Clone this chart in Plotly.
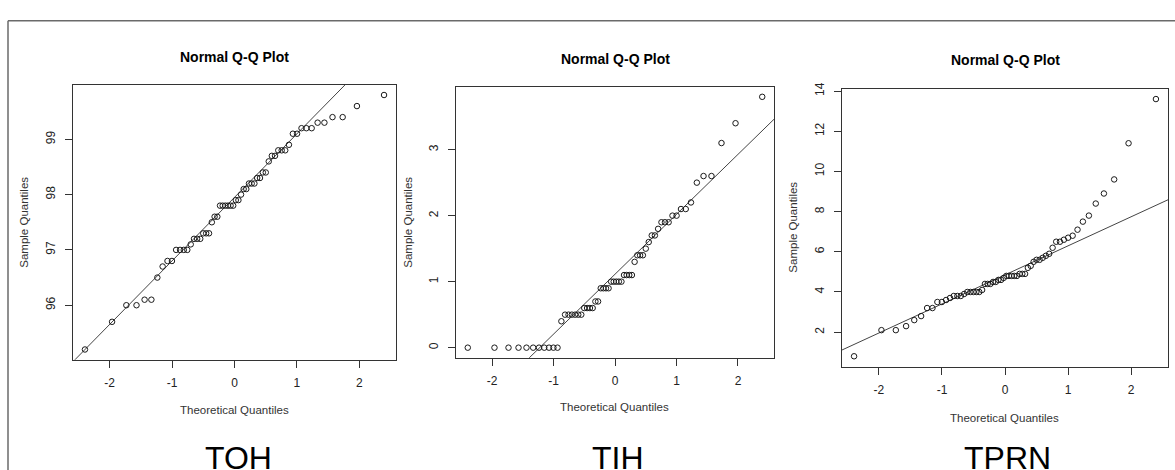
import numpy as np
import plotly.graph_objects as go
from statistics import NormalDist

W, H = 1175, 470

panel_names = ["TOH", "TIH", "TPRN"]
plot_title = "Normal Q-Q Plot"
x_label = "Theoretical Quantiles"
y_label = "Sample Quantiles"

toh = [95.2, 95.7, 96.0, 96.0, 96.1, 96.1, 96.5, 96.7, 96.8, 96.8,
       97.0, 97.0, 97.0, 97.0, 97.1, 97.2, 97.2, 97.2, 97.3, 97.3,
       97.3, 97.5, 97.6, 97.6, 97.8, 97.8, 97.8, 97.8, 97.8, 97.8,
       97.9, 97.9, 98.0, 98.1, 98.1, 98.2, 98.2, 98.2, 98.3, 98.3,
       98.4, 98.4, 98.6, 98.7, 98.7, 98.8, 98.8, 98.8, 98.9, 99.1,
       99.1, 99.2, 99.2, 99.2, 99.3, 99.3, 99.4, 99.4, 99.6, 99.8]

tih = [0.0, 0.0, 0.0, 0.0, 0.0, 0.0, 0.0, 0.0, 0.0, 0.0,
       0.0, 0.4, 0.5, 0.5, 0.5, 0.5, 0.5, 0.5, 0.6, 0.6,
       0.6, 0.6, 0.7, 0.7, 0.9, 0.9, 0.9, 0.9, 1.0, 1.0,
       1.0, 1.0, 1.0, 1.1, 1.1, 1.1, 1.1, 1.3, 1.4, 1.4,
       1.4, 1.5, 1.6, 1.7, 1.7, 1.8, 1.9, 1.9, 1.9, 2.0,
       2.0, 2.1, 2.1, 2.2, 2.5, 2.6, 2.6, 3.1, 3.4, 3.8]

tprn = [0.8, 2.1, 2.1, 2.3, 2.6, 2.8, 3.2, 3.2, 3.5, 3.5,
        3.6, 3.7, 3.8, 3.8, 3.8, 3.9, 4.0, 4.0, 4.0, 4.0,
        4.0, 4.1, 4.4, 4.4, 4.4, 4.5, 4.5, 4.6, 4.6, 4.7,
        4.8, 4.8, 4.8, 4.8, 4.8, 4.9, 4.9, 4.9, 5.2, 5.3,
        5.5, 5.6, 5.6, 5.7, 5.8, 5.9, 6.2, 6.5, 6.5, 6.6,
        6.7, 6.8, 7.1, 7.5, 7.8, 8.4, 8.9, 9.6, 11.4, 13.6]

series = [toh, tih, tprn]
x_ticks = [-2, -1, 0, 1, 2]
x_tick_text = ["-2", "-1", "0", "1", "2"]
y_ticks = [[96, 97, 98, 99], [0, 1, 2, 3], [2, 4, 6, 8, 10, 12, 14]]

# pixel layout of each panel: plot box (left, top, right, bottom)
boxes = [(73, 79, 396, 358), (456, 81, 774, 356), (842, 83, 1168, 365)]
title_pos = [(234, 51), (615, 53), (1005, 54)]
xlab_pos = [(234, 409), (614, 406), (1004, 417)]
ylab_pos = [(24, 219), (408, 219), (793, 224)]
name_pos = [(238, 458), (618, 458), (1007, 458)]

nd = NormalDist()


def ppoints(n):
    a = 3.0 / 8 if n <= 10 else 0.5
    return [(i + 1 - a) / (n + 1 - 2 * a) for i in range(n)]


def px(x):
    return x / W


def py(y):
    return 1 - y / H


FONT = "Liberation Sans, Arial"
fig = go.Figure()
annotations = []
for k, data in enumerate(series):
    y = np.sort(np.array(data, dtype=float))
    n = len(y)
    theo = np.array([nd.inv_cdf(p) for p in ppoints(n)])
    # qqline through the quartiles
    q1, q3 = np.quantile(y, [0.25, 0.75])
    z1, z3 = nd.inv_cdf(0.25), nd.inv_cdf(0.75)
    slope = (q3 - q1) / (z3 - z1)
    inter = q1 - slope * z1
    lx = np.array([-4.0, 4.0])
    xr = [theo.min() - 0.04 * (theo.max() - theo.min()), theo.max() + 0.04 * (theo.max() - theo.min())]
    yr = [y.min() - 0.04 * (y.max() - y.min()), y.max() + 0.04 * (y.max() - y.min())]
    xa = "x" if k == 0 else f"x{k+1}"
    ya = "y" if k == 0 else f"y{k+1}"
    fig.add_trace(go.Scatter(x=lx, y=inter + slope * lx, mode="lines",
                             line=dict(color="#444444", width=1),
                             xaxis=xa, yaxis=ya, showlegend=False, hoverinfo="skip"))
    fig.add_trace(go.Scatter(x=theo, y=y, mode="markers",
                             marker=dict(symbol="circle-open", size=5.5,
                                         color="#1a1a1a", line=dict(width=1)),
                             xaxis=xa, yaxis=ya, showlegend=False))
    l, t, r, b = boxes[k]
    axis_common = dict(showline=True, mirror=True, linecolor="#333333", linewidth=1,
                       ticks="outside", ticklen=7, tickcolor="#333333", tickwidth=1,
                       showgrid=False, zeroline=False,
                       tickfont=dict(family=FONT, size=12, color="#222222"))
    fig.update_layout(**{
        ("xaxis" if k == 0 else f"xaxis{k+1}"): dict(
            domain=[px(l), px(r)], range=xr, tickvals=x_ticks, ticktext=x_tick_text,
            anchor=ya, ticklabelstandoff=5, **axis_common),
        ("yaxis" if k == 0 else f"yaxis{k+1}"): dict(
            domain=[py(b), py(t)], range=yr, tickvals=y_ticks[k],
            ticktext=[str(v) for v in y_ticks[k]], tickangle=-90,
            anchor=xa, ticklabelstandoff=5, **axis_common),
    })
    tx, ty = title_pos[k]
    annotations.append(dict(text="<b>" + plot_title + "</b>", x=px(tx), y=py(ty),
                            xref="paper", yref="paper", showarrow=False,
                            xanchor="center", yanchor="middle",
                            font=dict(family=FONT, size=14, color="#000000")))
    tx, ty = xlab_pos[k]
    annotations.append(dict(text=x_label, x=px(tx), y=py(ty), xref="paper", yref="paper",
                            showarrow=False, xanchor="center", yanchor="middle",
                            font=dict(family=FONT, size=11.5, color="#333333")))
    tx, ty = ylab_pos[k]
    annotations.append(dict(text=y_label, x=px(tx), y=py(ty), xref="paper", yref="paper",
                            showarrow=False, xanchor="center", yanchor="middle", textangle=-90,
                            font=dict(family=FONT, size=11.5, color="#333333")))
    tx, ty = name_pos[k]
    annotations.append(dict(text=panel_names[k], x=px(tx), y=py(ty), xref="paper", yref="paper",
                            showarrow=False, xanchor="center", yanchor="middle",
                            font=dict(family=FONT, size=32, color="#000000")))

shapes = [
    dict(type="line", xref="paper", yref="paper", x0=px(8), x1=1.0, y0=py(14), y1=py(14),
         line=dict(color="#6a6a6a", width=1.5)),
    dict(type="line", xref="paper", yref="paper", x0=px(8), x1=px(8), y0=0.0, y1=py(14),
         line=dict(color="#6a6a6a", width=1.5)),
]

fig.update_layout(width=W, height=H, autosize=False,
                  margin=dict(l=0, r=0, t=0, b=0),
                  paper_bgcolor="white", plot_bgcolor="white",
                  annotations=annotations, shapes=shapes,
                  font=dict(family=FONT))

fig.write_html("out.html")
